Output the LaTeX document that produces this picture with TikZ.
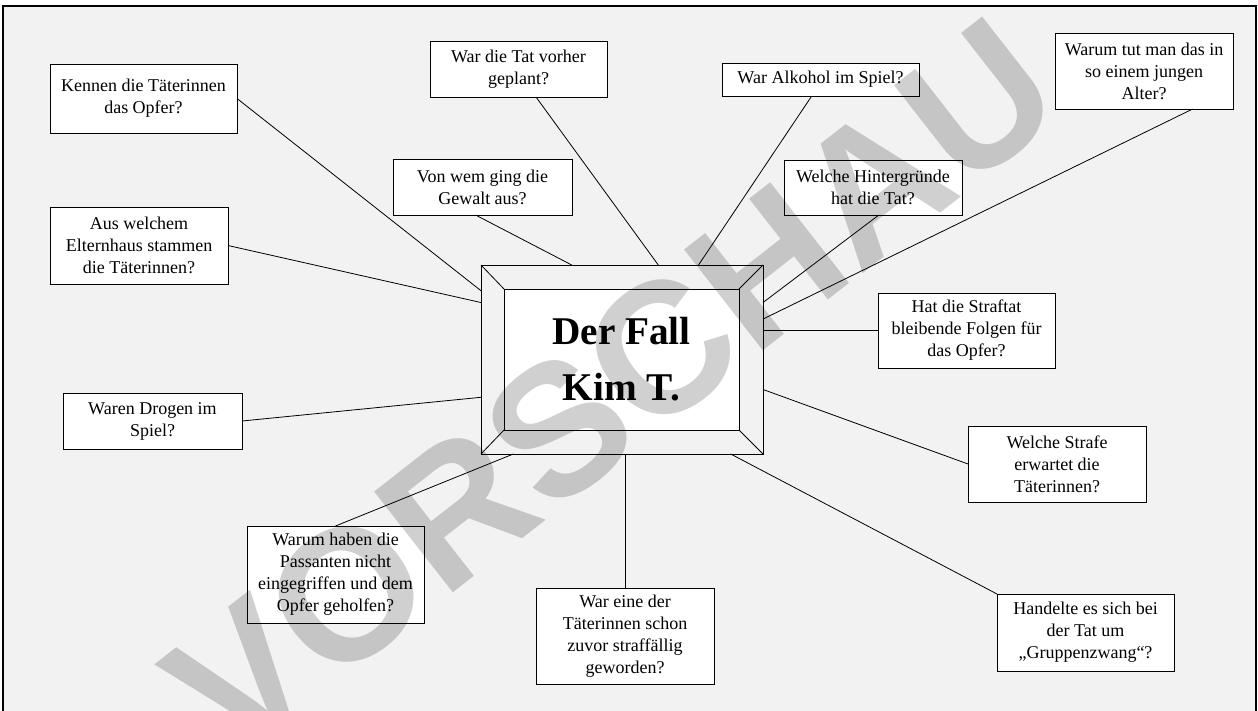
\documentclass[tikz,border=0pt]{standalone}
\usepackage{fontspec}
\setmainfont{Liberation Serif}
\newfontfamily\wmfont{Liberation Sans}
\usetikzlibrary{positioning}
\definecolor{hinter}{RGB}{242,242,242}
\definecolor{wasser}{RGB}{208,208,208}

\begin{document}
\begin{tikzpicture}[x=1pt,y=-1pt]
    \tikzstyle{edge}=[draw=black,line width=0.8pt,-]
    \tikzstyle{frage}=[rectangle,draw=black,line width=1pt,fill=white,align=center,inner sep=0pt,outer sep=0pt,font=\fontsize{18}{22}\selectfont]
    \tikzstyle{fall}=[rectangle,draw=black,line width=1pt,fill=hinter,inner sep=0pt,outer sep=0pt]
    \tikzstyle{mitte}=[rectangle,draw=black,line width=1pt,fill=white,align=center,inner sep=0pt,outer sep=0pt,font=\fontsize{39.3}{56}\selectfont\bfseries]
    \tikzstyle{wz}=[text=wasser,inner sep=0pt,font=\wmfont\bfseries\fontsize{186}{186}\selectfont]

    \useasboundingbox (0,0) rectangle (1258,710);
    \clip (0,0) rectangle (1258,710);
    \fill[white] (0,0) rectangle (1258,710);
    \draw[fill=hinter,line width=1.6pt] (3,6) rectangle (1256,730);

    \node[fall,minimum width=282pt,minimum height=189pt] (fall) at (622,359.5) {};
    \node[mitte,minimum width=235pt,minimum height=141pt] (kern) at (621.5,359.5) {Der Fall\\Kim T.};
    \path[edge] (fall.north west) -- (kern.north west);
    \path[edge] (fall.north east) -- (kern.north east);
    \path[edge] (fall.south east) -- (kern.south east);
    \path[edge] (fall.south west) -- (kern.south west);

    \node[frage,minimum width=187pt,minimum height=69pt] (f1)  at (143.5,98.5)  {Kennen die Täterinnen\\das Opfer?};
    \node[frage,minimum width=178pt,minimum height=77pt] (f2)  at (139,245.5)   {Aus welchem\\Elternhaus stammen\\die Täterinnen?};
    \node[frage,minimum width=179pt,minimum height=56pt] (f3)  at (482.5,187)   {Von wem ging die\\Gewalt aus?};
    \node[frage,minimum width=177pt,minimum height=56pt] (f4)  at (518.5,69)    {War die Tat vorher\\geplant?};
    \node[frage,minimum width=197pt,minimum height=33pt] (f5)  at (820.5,79.5)  {War Alkohol im Spiel?};
    \node[frage,minimum width=178pt,minimum height=55pt] (f6)  at (873,187.5)   {Welche Hintergründe\\hat die Tat?};
    \node[frage,minimum width=178pt,minimum height=76pt] (f7)  at (1144,71)     {Warum tut man das in\\so einem jungen\\Alter?};
    \node[frage,minimum width=177pt,minimum height=75pt] (f8)  at (966.5,330.5) {Hat die Straftat\\bleibende Folgen für\\das Opfer?};
    \node[frage,minimum width=178pt,minimum height=76pt] (f9)  at (1057,464)    {Welche Strafe\\erwartet die\\Täterinnen?};
    \node[frage,minimum width=177pt,minimum height=77pt] (f10) at (1085.5,632.5) {Handelte es sich bei\\der Tat um\\„Gruppenzwang“?};
    \node[frage,minimum width=178pt,minimum height=96pt] (f11) at (625,636)     {War eine der\\Täterinnen schon\\zuvor straffällig\\geworden?};
    \node[frage,minimum width=177pt,minimum height=97pt] (f12) at (335.5,574.5) {Warum haben die\\Passanten nicht\\eingegriffen und dem\\Opfer geholfen?};
    \node[frage,minimum width=179pt,minimum height=56pt] (f13) at (152.5,421)   {Waren Drogen im\\Spiel?};

    \path[edge] (f1.east) -- (fall.154.4);
    \path[edge] (f2.east) -- (fall.158.2);
    \path[edge] (f3.256.9) -- (fall.118.4);
    \path[edge] (f4.302) -- (fall.69.1);
    \path[edge] (f5.242.7) -- (fall.51.9);
    \path[edge] (f6.282.3) -- (fall.22.2);
    \path[edge] (f7.322.2) -- (fall.16.4);
    \path[edge] (f8.west) -- (fall.east |- f8.west);
    \path[edge] (f9.west) -- (fall.348.2);
    \path[edge] (f10.north west) -- (fall.319.3);
    \path[edge] (f11.north) -- (fall.south -| f11.north);
    \path[edge] (f12.north) -- (fall.221.7);
    \path[edge] (f13.east) -- (fall.195.3);

    \begin{scope}[blend mode=multiply]
        \node[wz,rotate=38] (vorschau) at (612,388) {VORSCHAU};
    \end{scope}
\end{tikzpicture}
\end{document}
